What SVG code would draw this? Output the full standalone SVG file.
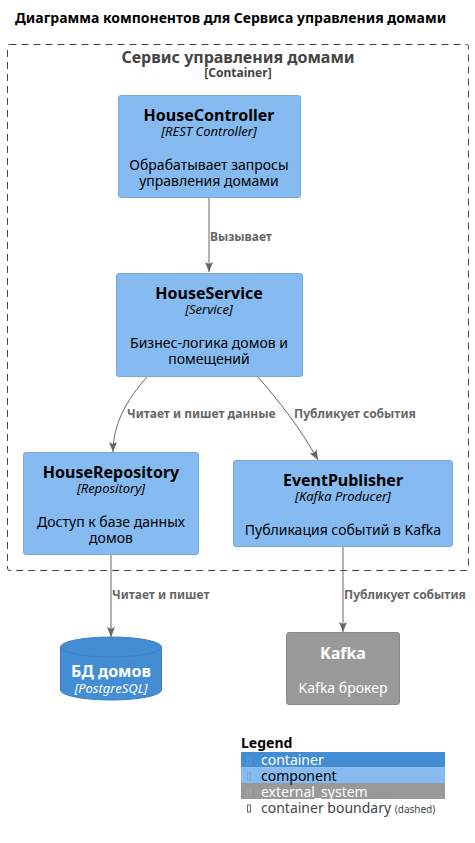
<svg xmlns="http://www.w3.org/2000/svg" width="475" height="843" viewBox="0 0 475 843">
<defs>
<style>
text{font-family:"Noto Sans","DejaVu Sans",sans-serif;}
.t{font-size:14px;font-weight:bold;fill:#000;}
.bt{font-size:16px;font-weight:bold;fill:#444;text-anchor:middle;}
.bs{font-size:12px;font-weight:bold;fill:#444;text-anchor:middle;}
.comp{fill:#85BBF0;stroke:#78A8D8;stroke-width:1;}
.n{font-size:16px;font-weight:bold;fill:#000;text-anchor:middle;}
.s{font-size:13px;font-style:italic;fill:#000;text-anchor:middle;}
.d{font-size:14px;fill:#000;text-anchor:middle;}
.w{fill:#fff;}
.l{font-size:12px;font-weight:bold;fill:#666;}
.c{fill:none;stroke:#666;stroke-width:1;}
.lg{font-size:14px;}
</style>
<marker id="ah" markerWidth="10" markerHeight="8" refX="10" refY="4" orient="auto" markerUnits="userSpaceOnUse">
<path d="M0,0 L10,4 L0,8 L2,4 Z" fill="#666"/>
</marker>
</defs>
<rect width="475" height="843" fill="#fff"/>
<text class="t" x="15" y="23">Диаграмма компонентов для Сервиса управления домами</text>

<g id="boundary">
<rect x="7.5" y="44.5" width="461" height="526" rx="2" fill="none" stroke="#444" stroke-width="1" stroke-dasharray="7,5"/>
<text class="bt" x="238" y="63">Сервис управления домами</text>
<text class="bs" x="238" y="77">[Container]</text>
</g>

<g id="connectors">
<path class="c" d="M209,197 V272" marker-end="url(#ah)"/>
<text class="l" x="210" y="241">Вызывает</text>
<path class="c" d="M148,376 C126,400 113,425 113,452" marker-end="url(#ah)"/>
<text class="l" x="127" y="418">Читает и пишет данные</text>
<path class="c" d="M257,376 C280,402 300,428 318,460" marker-end="url(#ah)"/>
<text class="l" x="294" y="418">Публикует события</text>
<path class="c" d="M111,554 V637" marker-end="url(#ah)"/>
<text class="l" x="112" y="599">Читает и пишет</text>
<path class="c" d="M343,546 V632" marker-end="url(#ah)"/>
<text class="l" x="344" y="599">Публикует события</text>
</g>

<g id="HouseController">
<rect class="comp" x="118.5" y="95.5" width="182" height="102" rx="2.5"/>
<text class="n" x="209" y="121">HouseController</text>
<text class="s" x="209" y="136">[REST Controller]</text>
<text class="d" x="209" y="170">Обрабатывает запросы</text>
<text class="d" x="209" y="186">управления домами</text>
</g>

<g id="HouseService">
<rect class="comp" x="116.5" y="273.5" width="186" height="103" rx="2.5"/>
<text class="n" x="209" y="299">HouseService</text>
<text class="s" x="209" y="314">[Service]</text>
<text class="d" x="209" y="348">Бизнес-логика домов и</text>
<text class="d" x="209" y="364">помещений</text>
</g>

<g id="HouseRepository">
<rect class="comp" x="23.5" y="452.5" width="175" height="102" rx="2.5"/>
<text class="n" x="111" y="478">HouseRepository</text>
<text class="s" x="111" y="493">[Repository]</text>
<text class="d" x="111" y="527">Доступ к базе данных</text>
<text class="d" x="111" y="543">домов</text>
</g>

<g id="EventPublisher">
<rect class="comp" x="233.5" y="460.5" width="219" height="86" rx="2.5"/>
<text class="n" x="343" y="486">EventPublisher</text>
<text class="s" x="343" y="501">[Kafka Producer]</text>
<text class="d" x="343" y="535">Публикация событий в Kafka</text>
</g>

<g id="db">
<path d="M60.5,647 A50.5,10 0 0 1 161.5,647 V690 A50.5,10 0 0 1 60.5,690 Z" fill="#438DD5" stroke="#3C7FC0"/>
<path d="M60.5,647 A50.5,10 0 0 0 161.5,647" fill="none" stroke="#3C7FC0"/>
<text class="n w" x="111" y="677">БД домов</text>
<text class="s w" x="111" y="693">[PostgreSQL]</text>
</g>

<g id="Kafka">
<rect x="286.5" y="632.5" width="113" height="72" rx="2.5" fill="#999" stroke="#8A8A8A"/>
<text class="n w" x="343" y="659">Kafka</text>
<text class="d w" x="343" y="693">Kafka брокер</text>
</g>

<g id="legend">
<text x="241" y="748" style="font-size:14px;font-weight:bold;fill:#000">Legend</text>
<rect x="241" y="752" width="204" height="15.5" fill="#438DD5"/>
<rect x="241" y="767.5" width="204" height="15.5" fill="#85BBF0"/>
<rect x="241" y="783" width="204" height="16" fill="#999"/>
<rect x="247.5" y="757.5" width="3" height="7" fill="none" stroke="#5A9BDB" stroke-width="0.8"/>
<rect x="247.5" y="773" width="3" height="7" fill="none" stroke="#6FA3D8" stroke-width="0.8"/>
<rect x="247.5" y="789" width="3" height="7" fill="none" stroke="#A8A8A8" stroke-width="0.8"/>
<rect x="247.5" y="805" width="3" height="7" fill="none" stroke="#444" stroke-width="0.8"/>
<text class="lg" x="261" y="765" fill="#fff">container</text>
<text class="lg" x="261" y="781" fill="#000">component</text>
<text class="lg" x="261" y="797" fill="#fff">external_system</text>
<text class="lg" x="261" y="813" fill="#444">container boundary <tspan style="font-size:10px">(dashed)</tspan></text>
</g>
</svg>
